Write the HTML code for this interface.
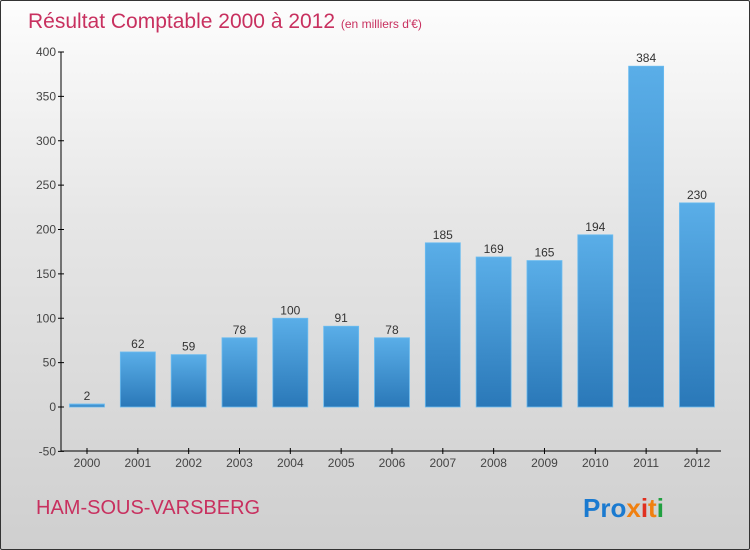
<!DOCTYPE html>
<html><head><meta charset="utf-8"><style>
body{margin:0}
#c{width:750px;height:550px;position:relative;overflow:hidden;box-sizing:border-box;border:1px solid #333;border-radius:2px;background:linear-gradient(#fdfdfd,#e6e6e6 40%,#cfcfcf);font-family:"Liberation Sans",sans-serif}
</style></head><body>
<div id="c">
<svg width="750" height="550" style="position:absolute;left:0;top:0">
<defs><linearGradient id="bg" x1="0" y1="0" x2="0" y2="1"><stop offset="0" stop-color="#5aaee8"/><stop offset="1" stop-color="#2a78b8"/></linearGradient></defs>
<text x="27" y="27" font-size="21" fill="#c8305f">Résultat Comptable 2000 à 2012 <tspan font-size="12">  (en milliers d'€)</tspan></text>
<g id="axes"></g><g id="bars"></g>
<text x="35" y="513" font-size="20" fill="#c8305f">HAM-SOUS-VARSBERG</text>
<text x="582" y="516" font-size="26" font-weight="bold"><tspan fill="#1a7ad0">Pro</tspan><tspan fill="#f08010">x</tspan><tspan fill="#e03020">i</tspan><tspan fill="#f08010">t</tspan><tspan fill="#20a040">i</tspan></text>
</svg></div>
<script>
const years=["2000","2001","2002","2003","2004","2005","2006","2007","2008","2009","2010","2011","2012"];
const values=[2,62,59,78,100,91,78,185,169,165,194,384,230];
const ticks=[-50,0,50,100,150,200,250,300,350,400];
const NS="http://www.w3.org/2000/svg";
const y=v=>406-v*0.8875, x=i=>86+i*50.83;
function mk(t,a,p,txt){const e=document.createElementNS(NS,t);for(const k in a)e.setAttribute(k,a[k]);if(txt!=null)e.textContent=txt;p.appendChild(e);return e;}
const ax=document.getElementById('axes'),bs=document.getElementById('bars');
let l=mk('line',{x1:60,y1:y(400),x2:60,y2:450,stroke:'#000'},ax);


l=mk('line',{x1:60,y1:450,x2:720,y2:450,stroke:'#000'},ax);


ticks.forEach(t=>{mk('line',{x1:57,y1:y(t),x2:63,y2:y(t),stroke:'#000'},ax);
const e=mk('text',{x:55,y:y(t)+4,'font-size':12,fill:'#444','text-anchor':'end'},ax,t);

});
years.forEach((yr,i)=>{mk('line',{x1:x(i),y1:447,x2:x(i),y2:453,stroke:'#000'},ax);
const e=mk('text',{x:x(i),y:466,'font-size':12,fill:'#444','text-anchor':'middle'},ax,yr);


const v=values[i],top=y(Math.max(v,0)),h=Math.max(Math.abs(y(v)-y(0)),3);
const r=mk('rect',{x:x(i)-17.5,y:v>=0&&h===3?y(0)-3:top,width:35,height:h,fill:'url(#bg)',stroke:'#6bbcf0','stroke-width':0.8},bs);


const lb=mk('text',{x:x(i),y:Math.min(top,y(0)-3)-4,'font-size':12,fill:'#333','text-anchor':'middle'},bs,v);

});
</script>
</body></html>
